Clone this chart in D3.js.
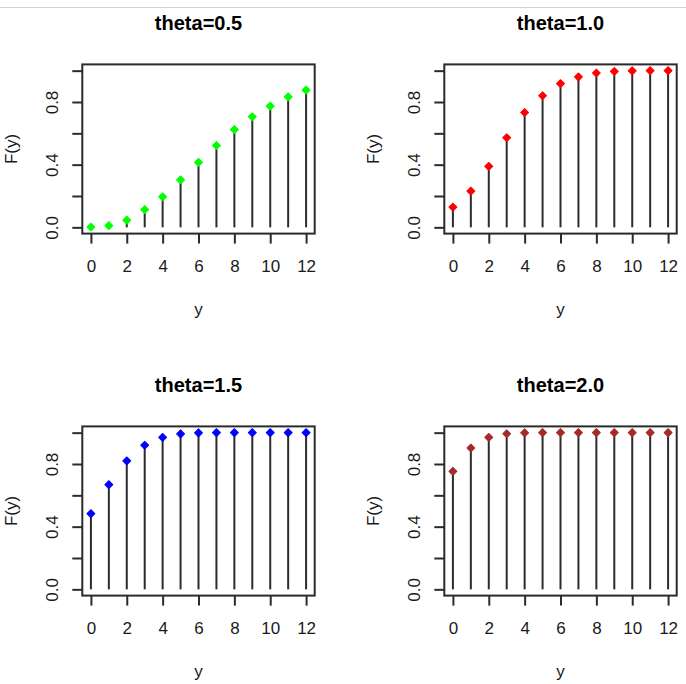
<!DOCTYPE html>
<html>
<head>
<meta charset="utf-8">
<script src="https://cdn.jsdelivr.net/npm/d3@7"></script>
<style>
  html, body { margin: 0; padding: 0; background: #fff; }
  svg { display: block; font-family: "Liberation Sans", Arial, sans-serif; }
</style>
</head>
<body>
<svg id="chart" width="686" height="684"></svg>
<script>
// Support points of the distribution
const yValues = [0, 1, 2, 3, 4, 5, 6, 7, 8, 9, 10, 11, 12];

// Cumulative probabilities F(y) for each theta
const cdfTheta05 = [0.002, 0.011, 0.046, 0.113, 0.195, 0.303, 0.415, 0.522, 0.624, 0.706, 0.774, 0.833, 0.876];
const cdfTheta10 = [0.129, 0.231, 0.389, 0.572, 0.733, 0.840, 0.917, 0.960, 0.985, 0.995, 0.999, 1.0, 1.0];
const cdfTheta15 = [0.483, 0.668, 0.820, 0.920, 0.970, 0.992, 0.999, 1.0, 1.0, 1.0, 1.0, 1.0, 1.0];
const cdfTheta20 = [0.753, 0.902, 0.970, 0.993, 0.999, 1.0, 1.0, 1.0, 1.0, 1.0, 1.0, 1.0, 1.0];

const panelTitles = ["theta=0.5", "theta=1.0", "theta=1.5", "theta=2.0"];
const panelSeries = [cdfTheta05, cdfTheta10, cdfTheta15, cdfTheta20];
const panelColors = ["#00ff00", "#ff0000", "#0000ff", "#a52a2a"];

// Axis ticks
const xTicks = [0, 2, 4, 6, 8, 10, 12];
const yTicks = [0, 0.2, 0.4, 0.6, 0.8, 1.0];
const yTickLabels = [0, 0.4, 0.8];

const svg = d3.select("#chart");

// thin frame line along the top
svg.append("line")
  .attr("x1", 0).attr("x2", 686)
  .attr("y1", 7.5).attr("y2", 7.5)
  .attr("stroke", "#d4d4d4").attr("stroke-width", 1);

// Geometry of one panel (top-left); other panels are offset
const cellW = 362, cellH = 362;
const box = { left: 82.3, right: 314.7, top: 64.4, bottom: 233.6 };

// R-style 4% padding around the data range
const x = d3.scaleLinear().domain([-0.48, 12.48]).range([box.left, box.right]);
const y = d3.scaleLinear().domain([-0.04, 1.04]).range([box.bottom, box.top]);

const ink = "#1a1a1a";
const lineInk = "#2b2b2b";
const tickLen = 10;

panelSeries.forEach((series, i) => {
  const col = i % 2, row = Math.floor(i / 2);
  const g = svg.append("g")
    .attr("transform", `translate(${col * cellW},${row * cellH})`);

  // stems from 0 up to F(y)
  g.selectAll("line.stem")
    .data(yValues)
    .join("line")
    .attr("class", "stem")
    .attr("x1", d => x(d)).attr("x2", d => x(d))
    .attr("y1", y(0))
    .attr("y2", (d, k) => y(series[k]))
    .attr("stroke", lineInk)
    .attr("stroke-width", 2);

  // filled diamond markers
  const side = 5.6;
  g.selectAll("path.pt")
    .data(yValues)
    .join("path")
    .attr("class", "pt")
    .attr("d", d3.symbol().type(d3.symbolSquare).size(side * side))
    .attr("transform", (d, k) => `translate(${x(d)},${y(series[k])}) rotate(45)`)
    .attr("fill", panelColors[i])
    .attr("stroke", panelColors[i])
    .attr("stroke-width", 1)
    .attr("stroke-linejoin", "round");

  // plot box
  g.append("rect")
    .attr("x", box.left).attr("y", box.top)
    .attr("width", box.right - box.left)
    .attr("height", box.bottom - box.top)
    .attr("fill", "none")
    .attr("stroke", lineInk)
    .attr("stroke-width", 2);

  // x axis
  const xAxis = d3.axisBottom(x)
    .tickValues(xTicks)
    .tickSize(tickLen)
    .tickPadding(16)
    .tickFormat(d3.format("d"));
  const gx = g.append("g")
    .attr("transform", `translate(0,${box.bottom})`)
    .call(xAxis);
  gx.select(".domain").remove();
  gx.selectAll(".tick line").attr("stroke", lineInk).attr("stroke-width", 2);
  gx.selectAll(".tick text")
    .attr("fill", ink)
    .style("font-size", "17px")
    .style("font-family", "'Liberation Sans', Arial, sans-serif");

  // y axis (ticks only; labels at 0.0, 0.4, 0.8)
  const yAxis = d3.axisLeft(y)
    .tickValues(yTicks)
    .tickSize(tickLen)
    .tickFormat(d => yTickLabels.some(v => Math.abs(v - d) < 1e-9) ? d3.format(".1f")(d) : "");
  const gy = g.append("g")
    .attr("transform", `translate(${box.left},0)`)
    .call(yAxis);
  gy.select(".domain").remove();
  gy.selectAll(".tick line").attr("stroke", lineInk).attr("stroke-width", 2);
  gy.selectAll(".tick text")
    .attr("fill", ink)
    .attr("x", 0).attr("dy", null)
    .attr("text-anchor", "middle")
    .attr("transform", `translate(${58 - box.left},0) rotate(-90)`)
    .attr("y", 0)
    .style("font-size", "17px")
    .style("font-family", "'Liberation Sans', Arial, sans-serif");

  const cx = (box.left + box.right) / 2;
  const cy = (box.top + box.bottom) / 2;

  // title
  g.append("text")
    .attr("x", cx).attr("y", 30)
    .attr("text-anchor", "middle")
    .attr("font-weight", "bold")
    .attr("font-size", 20)
    .attr("fill", "#000")
    .text(panelTitles[i]);

  // axis titles
  g.append("text")
    .attr("x", cx).attr("y", 315)
    .attr("text-anchor", "middle")
    .attr("font-size", 17)
    .attr("fill", ink)
    .text("y");

  g.append("text")
    .attr("transform", `translate(17,${cy}) rotate(-90)`)
    .attr("text-anchor", "middle")
    .attr("font-size", 17)
    .attr("fill", ink)
    .text("F(y)");
});
</script>
</body>
</html>
